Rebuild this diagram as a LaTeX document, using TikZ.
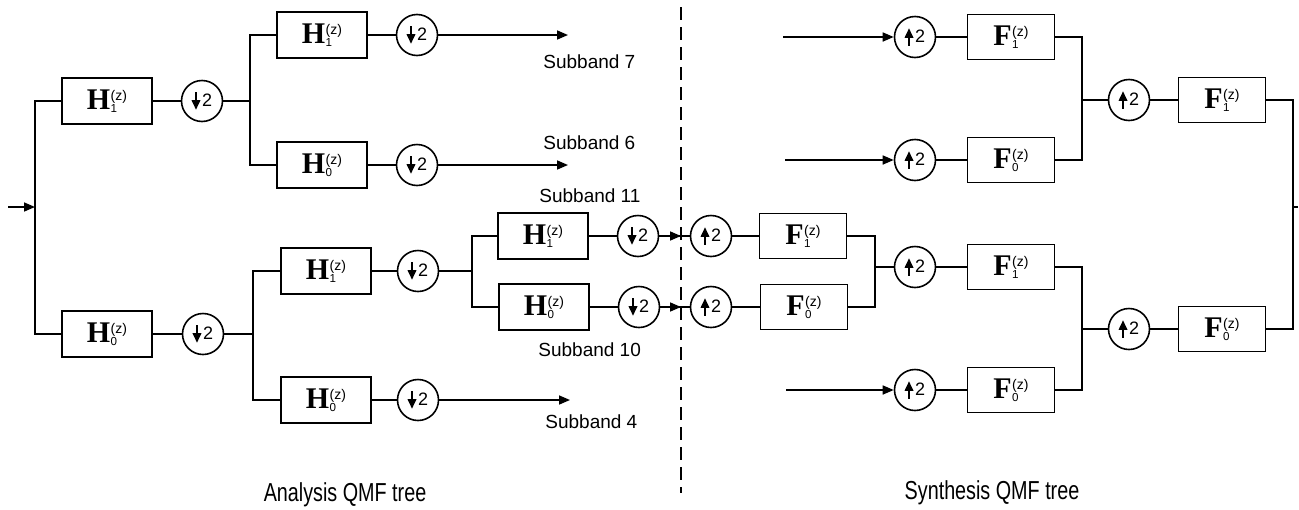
\documentclass[tikz,border=0pt]{standalone}
\usepackage{fontspec}
\usepackage{graphicx}
\setmainfont{Liberation Serif}
\setsansfont{Liberation Sans}
\usetikzlibrary{arrows.meta}
\newcommand\flab[2]{{\fontsize{15}{15}\selectfont\bfseries #1}\hspace{0.2pt}\rlap{\raisebox{-1.6pt}{\sffamily\fontsize{5.8}{6}\selectfont #2}}\raisebox{4.2pt}{\sffamily\fontsize{7}{7}\selectfont (z)}}
\newcommand\dnsym{\tikz[baseline=0pt]\draw[line width=1pt,-{Triangle[length=4.8pt,width=4.2pt]}] (0,7.2pt)--(0,-1.6pt);\hspace{1pt}{\sffamily\fontsize{9}{9}\selectfont 2}}
\newcommand\upsym{\tikz[baseline=0pt]\draw[line width=1pt,-{Triangle[length=4.8pt,width=4.2pt]}] (0,-1.6pt)--(0,7.2pt);\hspace{1pt}{\sffamily\fontsize{9}{9}\selectfont 2}}
\tikzset{
  hbox/.style={draw, line width=0.8pt, minimum width=45pt, minimum height=23pt, inner sep=0pt},
  fbox/.style={draw, line width=0.8pt, minimum width=43.5pt, minimum height=22.5pt, inner sep=0pt},
  samp/.style={draw, circle, line width=0.8pt, minimum size=20.5pt, inner sep=0pt},
  wire/.style={line width=0.8pt},
  arr/.style={wire, -{Triangle[length=5.5pt,width=4.5pt]}},
  lbl/.style={font=\sffamily\fontsize{9.5}{10}\selectfont, anchor=west, inner sep=0pt},
  ttl/.style={font=\sffamily\fontsize{13}{13}\selectfont, inner sep=0pt},
}
\begin{document}
\begin{tikzpicture}[x=0.5pt,y=-0.5pt]
\useasboundingbox (0,0) rectangle (1299,509);
% ---------- Analysis tree ----------
\coordinate (in) at (8,207);
\coordinate (j0) at (35,207);
\node[hbox] (h1) at (107,101) {\flab{H}{1}};
\node[samp] (d1) at (202,101) {\dnsym};
\node[hbox] (h0) at (107,334) {\flab{H}{0}};
\node[samp] (d0) at (203,334) {\dnsym};
\draw[arr] (in) -- (j0);
\draw[wire] (h1.west) -| (j0) |- (h0.west);
\draw[wire] (h1) -- (d1);
\draw[wire] (h0) -- (d0);
% upper branch
\coordinate (j1) at (250,101);
\node[hbox] (h11) at (322,35) {\flab{H}{1}};
\node[samp] (d11) at (417,35) {\dnsym};
\node[hbox] (h10) at (322,165) {\flab{H}{0}};
\node[samp] (d10) at (417,165) {\dnsym};
\draw[wire] (d1) -- (j1);
\draw[wire] (h11.west) -| (j1) |- (h10.west);
\draw[wire] (h11) -- (d11);
\draw[wire] (h10) -- (d10);
\coordinate (s7) at (568,35);
\coordinate (s6) at (568,165);
\draw[arr] (d11) -- (s7);
\draw[arr] (d10) -- (s6);
% lower branch
\coordinate (j2) at (253,334);
\node[hbox] (h01) at (326,271) {\flab{H}{1}};
\node[samp] (d01) at (418,271) {\dnsym};
\node[hbox] (h00) at (326,400) {\flab{H}{0}};
\node[samp] (d00) at (418,400) {\dnsym};
\draw[wire] (d0) -- (j2);
\draw[wire] (h01.west) -| (j2) |- (h00.west);
\draw[wire] (h01) -- (d01);
\draw[wire] (h00) -- (d00);
\coordinate (s4) at (570,400);
\draw[arr] (d00) -- (s4);
\coordinate (j3) at (472,271);
\node[hbox] (h011) at (543,236) {\flab{H}{1}};
\node[samp] (d011) at (638,236) {\dnsym};
\node[hbox] (h010) at (544,307) {\flab{H}{0}};
\node[samp] (d010) at (639,307) {\dnsym};
\draw[wire] (d01) -- (j3);
\draw[wire] (h011.west) -| (j3) |- (h010.west);
\draw[wire] (h011) -- (d011);
\draw[wire] (h010) -- (d010);
% labels
\node[lbl] (l7) at (543,62) {Subband 7};
\node[lbl] (l6) at (543,143) {Subband 6};
\node[lbl] (l11) at (539,196) {Subband 11};
\node[lbl] (l10) at (538,350) {Subband 10};
\node[lbl] (l4) at (545,422) {Subband 4};
\node[ttl] (ta) at (345,495) {\scalebox{0.76}[1]{Analysis QMF tree}};
% dashed separator
\coordinate (dt) at (681,7);
\coordinate (db) at (681,493);
\draw[wire, dash pattern=on 6.5pt off 3.5pt] (dt) -- (db);
% ---------- Synthesis tree ----------
\coordinate (e11) at (681,236);
\coordinate (e10) at (681,307);
\node[samp] (u011) at (711,236) {\upsym};
\node[samp] (u010) at (711,307) {\upsym};
\draw[wire] (d011) -- (u011);
\draw[wire] (d010) -- (u010);
\draw[arr] (d011) -- (e11);
\draw[arr] (d010) -- (e10);
\node[fbox] (f011) at (803,236) {\flab{F}{1}};
\node[fbox] (f010) at (804,307) {\flab{F}{0}};
\draw[wire] (u011) -- (f011);
\draw[wire] (u010) -- (f010);
\coordinate (j4) at (875,267);
\draw[wire] (f011.east) -| (j4) |- (f010.east);
\node[samp] (u01) at (915,267) {\upsym};
\node[fbox] (f01) at (1011,267) {\flab{F}{1}};
\draw[wire] (j4) -- (u01);
\draw[wire] (u01) -- (f01);
\coordinate (i00) at (786,390);
\node[samp] (u00) at (915,390) {\upsym};
\node[fbox] (f00) at (1011,390) {\flab{F}{0}};
\draw[arr] (i00) -- (u00);
\draw[wire] (u00) -- (f00);
\coordinate (j5) at (1082,329);
\draw[wire] (f01.east) -| (j5) |- (f00.east);
\node[samp] (u0) at (1129,329) {\upsym};
\node[fbox] (f0) at (1222,329) {\flab{F}{0}};
\draw[wire] (j5) -- (u0);
\draw[wire] (u0) -- (f0);
% top synthesis
\coordinate (i11) at (783,37);
\node[samp] (u11) at (915,37) {\upsym};
\node[fbox] (f11) at (1011,37) {\flab{F}{1}};
\draw[arr] (i11) -- (u11);
\draw[wire] (u11) -- (f11);
\coordinate (i10) at (785,160);
\node[samp] (u10) at (915,160) {\upsym};
\node[fbox] (f10) at (1011,160) {\flab{F}{0}};
\draw[arr] (i10) -- (u10);
\draw[wire] (u10) -- (f10);
\coordinate (j6) at (1082,100);
\draw[wire] (f11.east) -| (j6) |- (f10.east);
\node[samp] (u1) at (1129,100) {\upsym};
\node[fbox] (f1) at (1222,100) {\flab{F}{1}};
\draw[wire] (j6) -- (u1);
\draw[wire] (u1) -- (f1);
% output
\coordinate (j7) at (1293,207);
\coordinate (out) at (1298,207);
\draw[wire] (f1.east) -| (j7) |- (f0.east);
\draw[wire] (j7) -- (out);
\node[ttl] (ts) at (992,493) {\scalebox{0.76}[1]{Synthesis QMF tree}};
\end{tikzpicture}
\end{document}
